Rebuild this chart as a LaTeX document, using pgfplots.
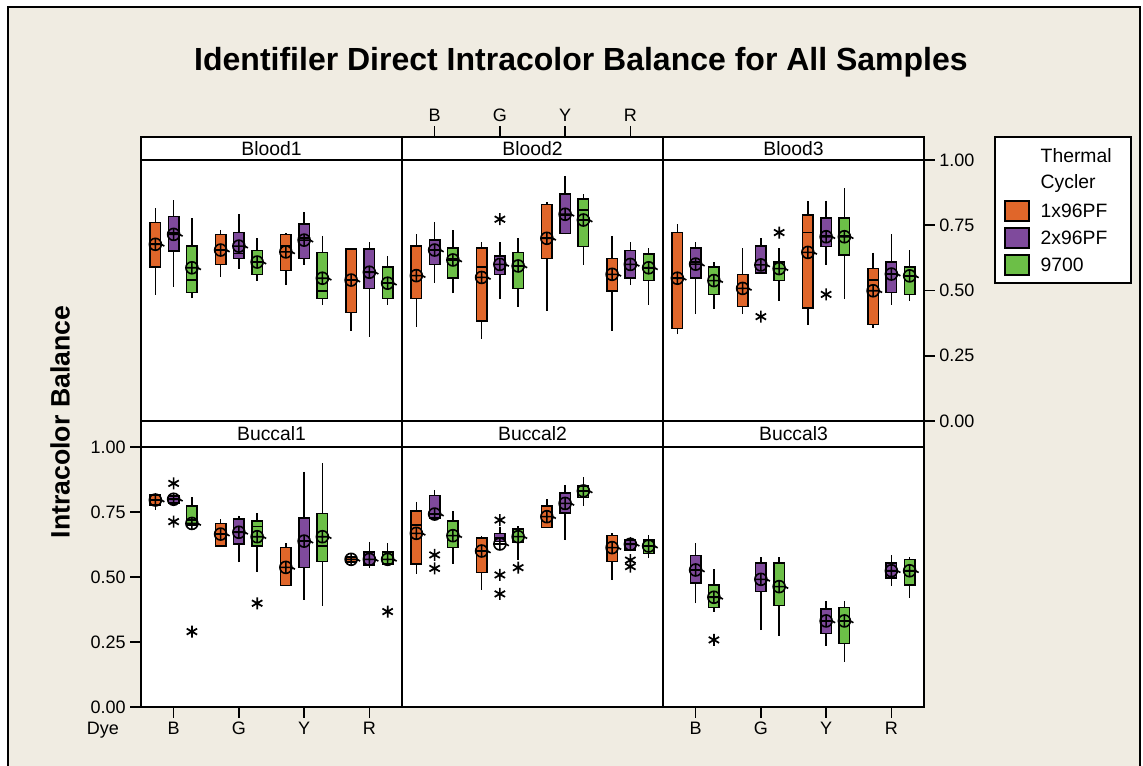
\documentclass[border=0pt]{standalone}
\usepackage{pgfplots}
\pgfplotsset{compat=1.18}
\usepgfplotslibrary{statistics}
\usepackage{fontspec}
\setmainfont{Liberation Sans}

\definecolor{orng}{HTML}{E0662A}
\definecolor{purp}{HTML}{7F4A9C}
\definecolor{grn}{HTML}{6CBF47}
\definecolor{bgc}{HTML}{F0ECE2}

% mean symbol: circle with a cross, not filled
\pgfdeclareplotmark{ocross}{%
  \pgfpathcircle{\pgfpointorigin}{\pgfplotmarksize}%
  \pgfpathmoveto{\pgfqpoint{-\pgfplotmarksize}{0pt}}\pgfpathlineto{\pgfqpoint{\pgfplotmarksize}{0pt}}%
  \pgfpathmoveto{\pgfqpoint{0pt}{-\pgfplotmarksize}}\pgfpathlineto{\pgfqpoint{0pt}{\pgfplotmarksize}}%
  \pgfpathmoveto{\pgfqpoint{\pgfplotmarksize}{0pt}}\pgfpathlineto{\pgfqpoint{1.5\pgfplotmarksize}{-0.3\pgfplotmarksize}}%
  \pgfusepathqstroke}

\newcommand{\lab}{\fontsize{13.5}{16}\selectfont}
\newcommand{\labb}{\fontsize{14.5}{17}\selectfont}

% \bx{colour}{position}{lower whisker}{Q1}{median}{Q3}{upper whisker}
\newcommand{\bx}[7]{\addplot[draw=black, fill=#1, line width=1.2pt,
  boxplot prepared={draw direction=y, draw position=#2, lower whisker=#3, lower quartile=#4,
  median=#5, upper quartile=#6, upper whisker=#7, box extend=0.16, whisker extend=0}]
  coordinates {};}
\newcommand{\means}[1]{\addplot[only marks, mark=ocross, mark size=4.5pt, black, line width=1.2pt] coordinates {#1};}
\newcommand{\outl}[1]{\addplot[only marks, mark=asterisk, mark size=4.5pt, black, line width=1.3pt] coordinates {#1};}

\pgfplotsset{
  panel/.style={scale only axis, width=195.75pt, xmin=-0.5, xmax=3.5, ymin=0, ymax=1,
    anchor=south west, axis background/.style={fill=white},
    axis line style={line width=1.3pt, black}, xtick=\empty, ytick=\empty,
    major tick length=8pt, tick align=outside, tick style={line width=1.3pt, black},
    ticklabel style={font=\lab},
    /pgf/number format/assume math mode=true,
    /pgf/number format/fixed, /pgf/number format/fixed zerofill,
    /pgf/number format/precision=2},
  toprow/.style={panel, height=195.75pt},
  botrow/.style={panel, height=195pt},
}

\begin{document}
\begin{tikzpicture}
\useasboundingbox (0,0) rectangle (857.25pt,-574.5pt);
\begin{scope}[x=0.75pt,y=-0.75pt]
\fill[white] (0,0) rectangle (1143,766);
\fill[bgc] (8,7) rectangle (1140,766);
\draw[line width=1.2pt] (8,766)--(8,7)--(1140,7)--(1140,766);
\node[font=\bfseries\fontsize{24}{28}\selectfont] at (581,62) {Identifiler Direct Intracolor Balance for All Samples};
\node[font=\bfseries\fontsize{20}{24}\selectfont, rotate=90] at (60,422) {Intracolor Balance};
\end{scope}

% ---------- Blood1
\begin{axis}[toprow, at={({141*0.75pt},{-421*0.75pt})}]
\bx{orng}{-0.28}{0.483}{0.591}{0.68}{0.761}{0.815}
\bx{purp}{0}{0.515}{0.651}{0.72}{0.784}{0.846}
\bx{grn}{0.28}{0.470}{0.492}{0.540}{0.670}{0.777}
\bx{orng}{0.72}{0.553}{0.600}{0.655}{0.715}{0.732}
\bx{purp}{1}{0.584}{0.623}{0.642}{0.722}{0.792}
\bx{grn}{1.28}{0.538}{0.562}{0.61}{0.653}{0.701}
\bx{orng}{1.72}{0.521}{0.576}{0.670}{0.715}{0.722}
\bx{purp}{2}{0.598}{0.623}{0.70}{0.754}{0.800}
\bx{grn}{2.28}{0.444}{0.470}{0.499}{0.645}{0.709}
\bx{orng}{2.72}{0.345}{0.416}{0.54}{0.660}{0.660}
\bx{purp}{3}{0.323}{0.507}{0.57}{0.660}{0.685}
\bx{grn}{3.28}{0.446}{0.470}{0.53}{0.591}{0.632}
\means{(-0.28,0.677)(0,0.715)(0.28,0.587)(0.72,0.655)(1,0.670)(1.28,0.609)(1.72,0.648)(2,0.693)(2.28,0.547)(2.72,0.540)(3,0.570)(3.28,0.528)}
\end{axis}

% ---------- Blood2
\begin{axis}[toprow, at={({402*0.75pt},{-421*0.75pt})}]
\bx{orng}{-0.28}{0.361}{0.470}{0.557}{0.670}{0.715}
\bx{purp}{0}{0.530}{0.600}{0.655}{0.693}{0.761}
\bx{grn}{0.28}{0.489}{0.547}{0.62}{0.662}{0.732}
\bx{orng}{0.72}{0.314}{0.384}{0.591}{0.662}{0.685}
\bx{purp}{1}{0.467}{0.562}{0.60}{0.632}{0.685}
\bx{grn}{1.28}{0.438}{0.507}{0.594}{0.645}{0.700}
\bx{orng}{1.72}{0.423}{0.623}{0.70}{0.829}{0.838}
\bx{purp}{2}{0.715}{0.719}{0.79}{0.869}{0.939}
\bx{grn}{2.28}{0.598}{0.668}{0.808}{0.851}{0.869}
\bx{orng}{2.72}{0.346}{0.499}{0.562}{0.623}{0.709}
\bx{purp}{3}{0.521}{0.547}{0.60}{0.653}{0.685}
\bx{grn}{3.28}{0.446}{0.538}{0.587}{0.639}{0.662}
\outl{(1,0.773)}
\means{(-0.28,0.557)(0,0.655)(0.28,0.617)(0.72,0.550)(1,0.600)(1.28,0.594)(1.72,0.700)(2,0.792)(2.28,0.770)(2.72,0.562)(3,0.600)(3.28,0.587)}
\end{axis}

% ---------- Blood3
\begin{axis}[toprow, at={({663*0.75pt},{-421*0.75pt})},
  ytick={0,0.25,0.5,0.75,1}, ytick pos=right, yticklabel pos=right]
\bx{orng}{-0.28}{0.332}{0.355}{0.547}{0.722}{0.754}
\bx{purp}{0}{0.409}{0.547}{0.61}{0.662}{0.685}
\bx{grn}{0.28}{0.429}{0.485}{0.538}{0.591}{0.609}
\bx{orng}{0.72}{0.409}{0.438}{0.508}{0.562}{0.662}
\bx{purp}{1}{0.568}{0.568}{0.60}{0.670}{0.700}
\bx{grn}{1.28}{0.461}{0.538}{0.584}{0.609}{0.662}
\bx{orng}{1.72}{0.368}{0.432}{0.722}{0.789}{0.844}
\bx{purp}{2}{0.598}{0.668}{0.71}{0.777}{0.844}
\bx{grn}{2.28}{0.467}{0.636}{0.71}{0.777}{0.891}
\bx{orng}{2.72}{0.355}{0.370}{0.540}{0.585}{0.645}
\bx{purp}{3}{0.446}{0.492}{0.563}{0.609}{0.715}
\bx{grn}{3.28}{0.461}{0.485}{0.556}{0.591}{0.655}
\outl{(1,0.400)(1.28,0.722)(2,0.485)}
\means{(-0.28,0.547)(0,0.601)(0.28,0.538)(0.72,0.508)(1,0.598)(1.28,0.584)(1.72,0.646)(2,0.706)(2.28,0.706)(2.72,0.499)(3,0.563)(3.28,0.556)}
\end{axis}

% ---------- Buccal1
\begin{axis}[botrow, at={({141*0.75pt},{-707*0.75pt})},
  ytick={0,0.25,0.5,0.75,1}, ytick pos=left,
  xtick={0,1,2,3}, xticklabels={B,G,Y,R}, xtick pos=left]
\bx{orng}{-0.28}{0.758}{0.777}{0.796}{0.815}{0.824}
\bx{purp}{0}{0.777}{0.785}{0.80}{0.812}{0.815}
\bx{grn}{0.28}{0.700}{0.700}{0.719}{0.774}{0.807}
\bx{orng}{0.72}{0.619}{0.619}{0.665}{0.706}{0.722}
\bx{purp}{1}{0.556}{0.627}{0.672}{0.722}{0.736}
\bx{grn}{1.28}{0.518}{0.619}{0.694}{0.715}{0.745}
\bx{orng}{1.72}{0.467}{0.467}{0.537}{0.614}{0.630}
\bx{purp}{2}{0.412}{0.537}{0.638}{0.728}{0.905}
\bx{grn}{2.28}{0.390}{0.559}{0.620}{0.745}{0.937}
\bx{orng}{2.72}{0.558}{0.558}{0.568}{0.578}{0.578}
\bx{purp}{3}{0.536}{0.546}{0.568}{0.597}{0.636}
\bx{grn}{3.28}{0.549}{0.549}{0.568}{0.597}{0.630}
\outl{(0,0.860)(0,0.713)(0.28,0.290)(1.28,0.399)(3.28,0.367)}
\means{(-0.28,0.796)(0,0.799)(0.28,0.706)(0.72,0.665)(1,0.672)(1.28,0.655)(1.72,0.537)(2,0.638)(2.28,0.655)(2.72,0.568)(3,0.568)(3.28,0.568)}
\end{axis}

% ---------- Buccal2
\begin{axis}[botrow, at={({402*0.75pt},{-707*0.75pt})}]
\bx{orng}{-0.28}{0.512}{0.550}{0.70}{0.754}{0.790}
\bx{purp}{0}{0.726}{0.726}{0.742}{0.813}{0.835}
\bx{grn}{0.28}{0.550}{0.613}{0.659}{0.715}{0.754}
\bx{orng}{0.72}{0.450}{0.518}{0.60}{0.651}{0.658}
\bx{purp}{1}{0.636}{0.636}{0.650}{0.668}{0.694}
\bx{grn}{1.28}{0.565}{0.632}{0.655}{0.685}{0.696}
\bx{orng}{1.72}{0.690}{0.690}{0.732}{0.774}{0.799}
\bx{purp}{2}{0.642}{0.745}{0.783}{0.822}{0.854}
\bx{grn}{2.28}{0.773}{0.805}{0.831}{0.850}{0.883}
\bx{orng}{2.72}{0.488}{0.559}{0.613}{0.659}{0.668}
\bx{purp}{3}{0.604}{0.604}{0.626}{0.642}{0.655}
\bx{grn}{3.28}{0.572}{0.591}{0.619}{0.642}{0.662}
\outl{(0,0.585)(0,0.533)(1,0.719)(1,0.508)(1,0.435)(1.28,0.536)(3,0.565)(3,0.540)}
\means{(-0.28,0.668)(0,0.742)(0.28,0.659)(0.72,0.600)(1,0.627)(1.28,0.655)(1.72,0.732)(2,0.783)(2.28,0.831)(2.72,0.613)(3,0.626)(3.28,0.619)}
\end{axis}

% ---------- Buccal3
\begin{axis}[botrow, at={({663*0.75pt},{-707*0.75pt})},
  xtick={0,1,2,3}, xticklabels={B,G,Y,R}, xtick pos=left]
\bx{purp}{0}{0.399}{0.476}{0.527}{0.583}{0.630}
\bx{grn}{0.28}{0.367}{0.382}{0.422}{0.469}{0.529}
\bx{purp}{1}{0.296}{0.444}{0.491}{0.553}{0.576}
\bx{grn}{1.28}{0.273}{0.390}{0.463}{0.553}{0.576}
\bx{purp}{2}{0.235}{0.283}{0.331}{0.376}{0.408}
\bx{grn}{2.28}{0.174}{0.245}{0.331}{0.382}{0.408}
\bx{purp}{3}{0.467}{0.497}{0.524}{0.553}{0.583}
\bx{grn}{3.28}{0.420}{0.469}{0.524}{0.568}{0.576}
\outl{(0.28,0.258)}
\means{(0,0.527)(0.28,0.422)(1,0.491)(1.28,0.463)(2,0.331)(2.28,0.331)(3,0.524)(3.28,0.524)}
\end{axis}

\begin{scope}[x=0.75pt,y=-0.75pt]
% strips
\foreach \xa/\nm in {141/Blood1,402/Blood2,663/Blood3}{
  \draw[fill=white, line width=1.3pt] (\xa,137) rectangle ++(261,23);
  \node[font=\labb] at (\xa+130.5,148.5) {\nm};}
\foreach \xa/\nm in {141/Buccal1,402/Buccal2,663/Buccal3}{
  \draw[fill=white, line width=1.3pt] (\xa,421) rectangle ++(261,26);
  \node[font=\labb] at (\xa+130.5,434) {\nm};}
% dye ticks above Blood2
\foreach \k/\d in {0/B,1/G,2/Y,3/R}{
  \draw[line width=1.3pt] ({402+(\k+0.5)*65.25},137)--++(0,-11);
  \node[font=\lab] at ({402+(\k+0.5)*65.25},115) {\d};}
\node[font=\lab] at (103,730) {Dye};
% legend
\draw[fill=white, line width=1.2pt] (995,137) rectangle (1131,283);
\node[font=\labb, anchor=west] at (1036,156) {Thermal};
\node[font=\labb, anchor=west] at (1036,184) {Cycler};
\foreach \c/\t/\yy in {orng/1x96PF/211,purp/2x96PF/238,grn/9700/265}{
  \draw[fill=\c, line width=1.2pt] (1005,\yy-10) rectangle (1029,\yy+10);
  \node[font=\labb, anchor=west] at (1036,\yy) {\t};}
\end{scope}
\end{tikzpicture}
\end{document}
